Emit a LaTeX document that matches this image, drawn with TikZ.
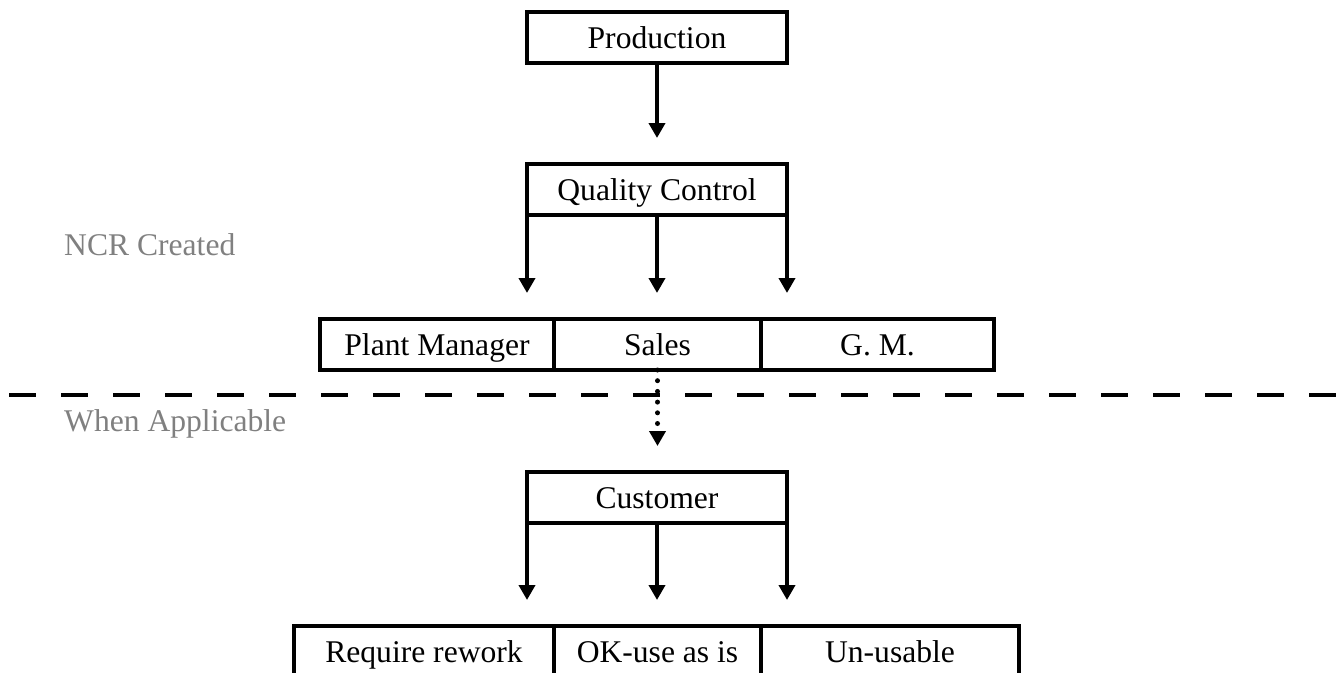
\documentclass[tikz,border=0pt]{standalone}
\usepackage{fontspec}
\setmainfont{Liberation Serif}
\usetikzlibrary{arrows.meta}
\definecolor{labelgray}{RGB}{128,128,128}
\begin{document}
\begin{tikzpicture}[x=1pt,y=-1pt,
  every node/.style={font=\fontsize{31.6pt}{36pt}\selectfont},
  box/.style={draw,line width=3.3pt,inner sep=0pt,outer sep=0pt,minimum height=51pt,text height=21pt,text depth=0pt,anchor=center},
  arr/.style={line width=4.6pt,-{Triangle[width=16pt,length=15pt]},shorten >=26pt},
  dotarr/.style={line width=5pt,line cap=round,dash pattern=on 0pt off 10.7pt,-{Triangle[width=16pt,length=15pt]},shorten >=26pt},
  sepline/.style={line width=3.4pt,dash pattern=on 27pt off 25pt},
  note/.style={text=labelgray,anchor=base west,inner sep=0pt}]
\useasboundingbox (0,0) rectangle (1343,672);
\clip (0,0) rectangle (1343,672);
% boxes
\node[box,minimum width=260pt] (prod) at (657,37.5) {Production};
\node[box,minimum width=260pt] (qc) at (657,189.5) {Quality Control};
\node[box,minimum width=234pt] (pm) at (437,344.5) {Plant Manager};
\node[box,minimum width=207pt] (sales) at (657.5,344.5) {Sales};
\node[box,minimum width=233pt] (gm) at (877.5,344.5) {G. M.};
\node[box,minimum width=260pt] (cust) at (657,497.5) {Customer};
\node[box,minimum width=260pt] (rw) at (424,651.5) {Require rework};
\node[box,minimum width=207pt] (ok) at (657.5,651.5) {OK-use as is};
\node[box,minimum width=258pt] (un) at (890,651.5) {Un-usable};
% labels
\node[note] (ncr) at (64,255) {NCR Created};
\node[note] (wa) at (64,431) {When Applicable};
% separator
\coordinate (sepl) at (9,395);
\coordinate (sepr) at (1343,395);
\draw[sepline] (sepl) -- (sepr);
% connectors
\draw[arr] (prod.south) -- (qc.north);
\draw[arr] (qc.south west) -- (qc.south west |- pm.north);
\draw[arr] (qc.south) -- (qc.south |- pm.north);
\draw[arr] (qc.south east) -- (qc.south east |- pm.north);
\draw[dotarr] (sales.south) -- (sales.south |- cust.north);
\draw[arr] (cust.south west) -- (cust.south west |- rw.north);
\draw[arr] (cust.south) -- (cust.south |- rw.north);
\draw[arr] (cust.south east) -- (cust.south east |- rw.north);
\end{tikzpicture}
\end{document}
